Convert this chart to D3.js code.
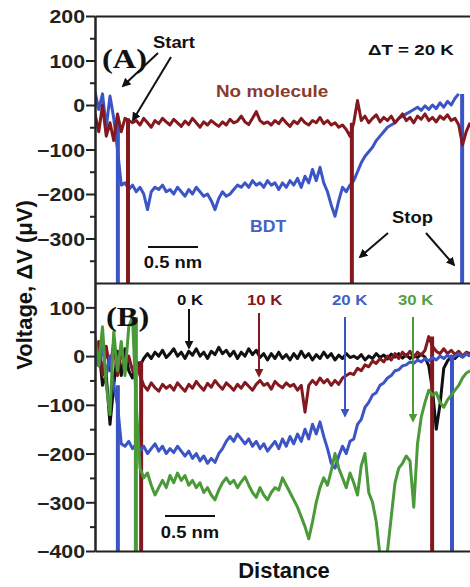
<!DOCTYPE html>
<html>
<head>
<meta charset="utf-8">
<script src="https://cdn.jsdelivr.net/npm/d3@7"></script>
<style>
  body { margin: 0; background: #fff; }
  svg { display: block; }
</style>
</head>
<body>
<svg id="chart" width="470" height="587"></svg>
<script>
// tick labels
var aTicks = [200, 100, 0, -100, -200, -300];
var aMinor = [150, 50, -50, -150, -250, -350];
var bTicks = [100, 0, -100, -200, -300, -400];
var bMinor = [50, -50, -150, -250, -350];

// panel A, dT = 20 K (uV, one sample per distance step)
var aNoMolecule = [
    -20, -60, 0, -70, -40, -80, -20, -60, -30, -35,
    -40, -35, -45, -30, -40, -50, -35, -42, -30, -38,
    -45, -32, -40, -48, -36, -44, -30, -40, -50, -38,
    -45, -35, -42, -48, -38, -45, -32, -40, -36, -25,
    -38, -44, -30, -15, -35, -42, -38, -45, -35, -42,
    -30, -40, -48, -36, -42, -30, -40, -45, -35, -40,
    -28, -42, -35, -45, -40, -50, -45, -55, -70, -40,
    10, -35, -25, -40, -30, -22, -38, -28, -35, -25,
    -40, -30, -20, -35, -28, -40, -25, -32, -20, -35,
    -28, -38, -25, -32, -22, -35, -30, -45, -90, -60,
    -40
];
var aBDT = [
    30, -10, 25, -50, 20, -30, -100, -180, -175, -190,
    -180, -195, -185, -200, -235, -195, -185, -190, -180, -195,
    -190, -200, -185, -195, -205, -190, -200, -185, -195, -205,
    -200, -215, -235, -210, -195, -205, -200, -190, -180, -185,
    -175, -185, -170, -180, -175, -185, -170, -180, -175, -190,
    -175, -185, -170, -180, -165, -185, -160, -175, -145, -170,
    -140, -175, -195, -225, -250, -215, -185, -195, -180, -170,
    -150, -130, -115, -105, -95, -80, -70, -60, -50, -45,
    -40, -30, -25, -20, -15, -10, -5, -12, -2, -10,
    0, -8, 5, -5, 8, 0, 15, 25, null, null,
    null
];
// where the tip breaks contact (trace runs off the bottom)
var aNoMoleculeDrops = [8.8, 68.5];
var aBDTDrops = [6.1, 97.9];

// panel B, different dT
var b0K = [
    0, 20, -60, -40, -140, -60, 10, -40, 15, -30,
    -45, -10, -20, -5, 5, -5, 8, 0, 12, -3,
    5, 15, 0, 8, -5, 10, 2, 15, 0, 8,
    -5, 10, 3, 18, 5, 12, 0, 10, -5, 8,
    0, 15, 3, 12, -3, 5, -8, 5, -5, 8,
    -5, 3, -8, 5, -5, 10, -3, 5, -8, 3,
    -5, 8, -3, 5, -8, 2, -5, 5, -3, 0,
    -5, 3, -8, 0, -5, 5, -3, 2, -6, 4,
    -2, 5, -4, 3, -5, 2, -3, 4, -2, -20,
    -70, -150, -100, -25, -10, 0, -5, 3, -2, 5,
    0
];
var b10K = [
    -20, 30, -40, 20, -30, 30, -40, 10, -20, 0,
    -30, -10, -40, -60, -70, -55, -65, -72, -58, -66,
    -60, -70, -55, -64, -72, -58, -66, -52, -62, -70,
    -56, -64, -50, -60, -68, -55, -62, -70, -58, -66,
    -54, -62, -70, -58, -50, -60, -56, -68, -52, -60,
    -65, -55, -62, -58, -70, -60, -115, -60, -50, -58,
    -45, -55, -48, -60, -50, -58, -45, -40, -35, -38,
    -25, -30, -18, -22, -10, -15, -5, -12, 0, -8,
    5, -5, 8, 0, 10, -3, 8, 2, 12, 40,
    20, 10, 5, 15, 5, 12, 3, 10, 0, 8,
    5
];
var b20K = [
    10, -20, 20, -40, 0, -60, -100, -180, -185, -175,
    -190, -180, -195, -185, -200, -190, -180, -195, -185, -200,
    -190, -198, -185, -195, -205, -195, -210, -200, -215, -205,
    -220, -210, -218, -200, -190, -175, -165, -175, -160, -170,
    -180, -170, -185, -175, -190, -180, -195, -185, -175, -190,
    -170, -185, -165, -180, -160, -175, -150, -170, -140, -160,
    -135, -165, -190, -220, -230, -205, -185, -200, -175, -170,
    -140, -130, -105, -95, -80, -75, -60, -55, -45, -40,
    -30, -28, -20, -18, -12, -15, -8, -12, -5, -10,
    -3, -8, 0, -5, 2, -5, 0, 5, -2, 5,
    0
];
var b30K = [
    40, -20, 60, -60, -120, 50, -30, 30, -40, 60,
    80, -100, -230, -250, -240, -265, -285, -270, -255, -270,
    -245, -260, -240, -255, -245, -265, -255, -270, -260, -280,
    -270, -285, -295, -275, -260, -250, -262, -255, -270, -258,
    -248, -265, -280, -290, -270, -285, -295, -280, -270, -275,
    -250, -265, -280, -295, -310, -330, -350, -375, -340, -300,
    -270, -250, -265, -235, -200, -230, -250, -270, -240, -260,
    -285, -225, -200, -280, -300, -340, -410, -420, -400, -330,
    -260, -230, -220, -205, -215, -310, -180, -125, -95, -70,
    -80, -75, -95, -105, -90, -80, -70, -60, -45, -35,
    -30
];
var b0KDrops = [];
var b10KDrops = [12.3, 89.9];
var b20KDrops = [6.1, 95.2];
var b30KDrops = [10.9];

var RED = "#84181f", BLUE = "#3c55c6", GREEN = "#4b9a3a", BLACK = "#111";
var FONT = "Arial, 'Liberation Sans', sans-serif";

var svg = d3.select("#chart");
var defs = svg.append("defs");

var x = d3.scaleLinear().domain([0, 100]).range([95, 470]);
var yA = d3.scaleLinear().domain([-400, 200]).range([283, 16]);
var yB = d3.scaleLinear().domain([-400, 150]).range([551, 283]);

function clip(id, y0, y1) {
    defs.append("clipPath").attr("id", id)
        .append("rect")
        .attr("x", 95).attr("y", y0)
        .attr("width", 375).attr("height", y1 - y0);
}
clip("clipA", 16, 283);
clip("clipB", 283, 551);

function arrowHead(id, color) {
    defs.append("marker")
        .attr("id", id)
        .attr("viewBox", "0 0 10 10")
        .attr("refX", 8).attr("refY", 5)
        .attr("markerWidth", 4.5).attr("markerHeight", 4.5)
        .attr("orient", "auto")
        .append("path")
        .attr("d", "M0,0L10,5L0,10z")
        .attr("fill", color);
}
arrowHead("ahBlack", BLACK);
arrowHead("ahRed", RED);
arrowHead("ahBlue", BLUE);
arrowHead("ahGreen", GREEN);

function trace(y, clipId, values, drops, color) {
    var g = svg.append("g").attr("clip-path", "url(#" + clipId + ")");
    var line = d3.line()
        .defined(function(d) { return d !== null; })
        .x(function(d, i) { return x(i); })
        .y(function(d) { return y(d); });
    g.append("path")
        .datum(values)
        .attr("fill", "none")
        .attr("stroke", color)
        .attr("stroke-width", 3)
        .attr("stroke-linejoin", "round")
        .attr("d", line);
    // contact break: straight down off the bottom of the panel
    g.selectAll("line.drop")
        .data(drops)
        .enter().append("line")
        .attr("class", "drop")
        .attr("x1", function(d) { return x(d); })
        .attr("x2", function(d) { return x(d); })
        .attr("y1", function(d) {
            var i = Math.floor(d);
            return y(d3.max([values[i - 1], values[i], values[i + 1]]));
        })
        .attr("y2", y(-450))
        .attr("stroke", color)
        .attr("stroke-width", 4);
}

trace(yA, "clipA", aBDT, aBDTDrops, BLUE);
trace(yA, "clipA", aNoMolecule, aNoMoleculeDrops, RED);

trace(yB, "clipB", b0K, b0KDrops, BLACK);
trace(yB, "clipB", b10K, b10KDrops, RED);
trace(yB, "clipB", b20K, b20KDrops, BLUE);
trace(yB, "clipB", b30K, b30KDrops, GREEN);

// axes
function styleAxis(g) {
    g.select(".domain").attr("stroke", "#222").attr("stroke-width", 2);
    g.selectAll(".tick line").attr("stroke", "#222").attr("stroke-width", 2);
    g.selectAll(".tick text")
        .attr("font-family", FONT)
        .attr("font-weight", "bold")
        .attr("font-size", 19)
        .attr("fill", "#222")
        .attr("transform", "scale(1.12,1)")
        .attr("x", -10 / 1.12)
        .attr("dy", "0.36em");
}

function yAxis(y, ticks, minor) {
    svg.append("g")
        .attr("transform", "translate(95,0)")
        .call(d3.axisLeft(y).tickValues(minor).tickSize(5).tickFormat("").tickSizeOuter(0))
        .call(styleAxis);
    svg.append("g")
        .attr("transform", "translate(95,0)")
        .call(d3.axisLeft(y).tickValues(ticks).tickSize(9).tickPadding(1).tickSizeOuter(0))
        .call(styleAxis);
}
yAxis(yA, aTicks, aMinor);
yAxis(yB, bTicks, bMinor);

[16, 283, 551].forEach(function(py) {
    svg.append("g")
        .attr("transform", "translate(0," + py + ")")
        .call(d3.axisBottom(x).tickValues([]).tickSizeOuter(0))
        .call(styleAxis);
});

// text helper, the original lettering is a bit wide
function label(px, py, str, size, color, opts) {
    opts = opts || {};
    svg.append("text")
        .attr("transform", "translate(" + px + "," + py + ") scale(" + (opts.sx || 1) + ",1)" + (opts.rotate ? " rotate(" + opts.rotate + ")" : ""))
        .attr("text-anchor", opts.anchor || "start")
        .attr("font-family", opts.family || FONT)
        .attr("font-weight", "bold")
        .attr("font-size", size)
        .attr("fill", color)
        .text(str);
}

function arrow(x1, y1, x2, y2, color, marker) {
    svg.append("line")
        .attr("x1", x1).attr("y1", y1)
        .attr("x2", x2).attr("y2", y2)
        .attr("stroke", color)
        .attr("stroke-width", 2)
        .attr("marker-end", "url(#" + marker + ")");
}

function scaleBar(px, py, ty) {
    svg.append("line")
        .attr("x1", px).attr("x2", px + 50)
        .attr("y1", py).attr("y2", py)
        .attr("stroke", BLACK).attr("stroke-width", 2);
    label(px + 25, ty, "0.5 nm", 16, BLACK, {anchor: "middle", sx: 1.15});
}

// panel A annotations
label(102, 68, "(A)", 27, BLACK, {family: "'Liberation Serif', 'Times New Roman', serif", sx: 1.2});
label(153, 48, "Start", 16, BLACK, {sx: 1.15});
arrow(158, 53, 123, 86, BLACK, "ahBlack");
arrow(171, 57, 133, 120, BLACK, "ahBlack");
label(368, 55, "\u0394T = 20 K", 15, BLACK, {sx: 1.25});
label(216, 97, "No molecule", 16, "#8b3b2d", {sx: 1.18});
label(250, 232, "BDT", 16, "#4461c7", {sx: 1.1});
scaleBar(148, 247, 268);
label(392, 223, "Stop", 16, BLACK, {sx: 1.15});
arrow(388, 233, 360, 257, BLACK, "ahBlack");
arrow(426, 233, 454, 265, BLACK, "ahBlack");

// panel B annotations
label(106, 326, "(B)", 27, BLACK, {family: "'Liberation Serif', 'Times New Roman', serif", sx: 1.2});
label(177, 305, "0 K", 14, BLACK, {sx: 1.2});
arrow(189, 309, 189, 348, BLACK, "ahBlack");
label(247, 305, "10 K", 14, RED, {sx: 1.2});
arrow(259, 313, 259, 376, RED, "ahRed");
label(332, 305, "20 K", 14, "#4461c7", {sx: 1.2});
arrow(345, 317, 345, 416, BLUE, "ahBlue");
label(398, 305, "30 K", 14, "#55a044", {sx: 1.2});
arrow(413, 317, 413, 421, GREEN, "ahGreen");
scaleBar(165, 516, 538);

// axis titles
label(284, 578, "Distance", 22, BLACK, {anchor: "middle"});
label(32, 285, "Voltage, \u0394V (\u03bcV)", 22, BLACK, {anchor: "middle", rotate: -90});
</script>
</body>
</html>
